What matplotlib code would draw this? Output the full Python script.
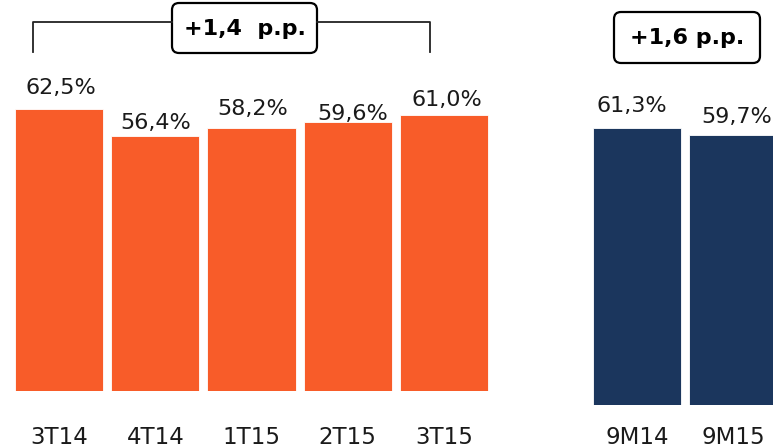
import matplotlib.pyplot as plt
from matplotlib.patches import FancyBboxPatch
from matplotlib.lines import Line2D
from matplotlib.transforms import Affine2D

# data
quarters = ["3T14", "4T14", "1T15", "2T15", "3T15"]
quarter_values = [62.5, 56.4, 58.2, 59.6, 61.0]
periods = ["9M14", "9M15"]
period_values = [61.3, 59.7]
quarter_delta = "+1,4  p.p."
period_delta = "+1,6 p.p."

ORANGE = "#F85C29"
NAVY = "#1B365D"
TEXT = "#1a1a1a"

W, H = 773, 446
fig = plt.figure(figsize=(W / 100, H / 100), dpi=100)

# pixel coords (top-left origin) -> display
px = Affine2D().scale(1 / W, -1 / H).translate(0, 1) + fig.transFigure


def axes_at(x0, baseline, width, height):
    return fig.add_axes([x0 / W, (H - baseline) / H, width / W, height / H])


def fmt(v):
    return f"{v:.1f}%".replace(".", ",")


def draw_bars(ax, labels, values, color, label_offsets, label_dx, pad):
    xs = range(len(values))
    ax.bar(xs, values, width=0.915, color=color, edgecolor="white", linewidth=0.6)
    for x, v, dy, dx in zip(xs, values, label_offsets, label_dx):
        ax.annotate(fmt(v), (x, v), xytext=(dx, dy), textcoords="offset pixels",
                    ha="center", va="baseline", fontsize=16, color=TEXT)
    ax.set_xticks(list(xs))
    ax.set_xticklabels(labels, fontsize=16.5, color=TEXT)
    ax.tick_params(axis="x", length=0, pad=pad)
    ax.set_yticks([])
    ax.set_ylim(0, 70)
    ax.set_xlim(-0.5, len(values) - 0.5)
    for s in ax.spines.values():
        s.set_visible(False)
    ax.patch.set_alpha(0)


ax1 = axes_at(10.9, 391, 481.2, 316.4)
draw_bars(ax1, quarters, quarter_values, ORANGE,
          [14, 7, 13, 2, 9], [2, 0, 1, 5, 3], 25)

ax2 = axes_at(589, 405, 192, 316.4)
draw_bars(ax2, periods, period_values, NAVY, [16, 12], [-5, 4], 15)

# bracket over the quarters
for xs_, ys_ in [([33, 33, 172], [52, 22, 22]), ([317, 430, 430], [22, 22, 52])]:
    fig.add_artist(Line2D(xs_, ys_, transform=px, color="#222222", linewidth=1.3))

# delta boxes
for (x, y, w, h), txt in [((172, 3, 145, 50), quarter_delta),
                          ((614, 12, 146, 51), period_delta)]:
    box = FancyBboxPatch((x, y), w, h, boxstyle="round,pad=0,rounding_size=7",
                         transform=px, facecolor="white", edgecolor="black",
                         linewidth=1.6)
    fig.add_artist(box)
    fig.text(x + w / 2, y + h / 2 + 1, txt, transform=px, ha="center", va="center",
             fontsize=16, fontweight="bold", color="black")

fig.savefig("out.png", dpi=100)
